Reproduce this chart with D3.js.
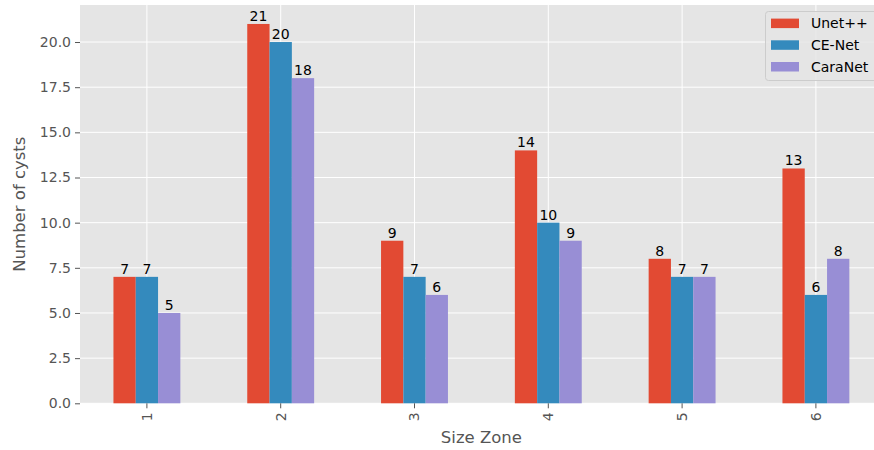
<!DOCTYPE html>
<html><head><meta charset="utf-8">
<script src="https://cdn.jsdelivr.net/npm/d3@7"></script>
<style>body{margin:0;background:#fff}svg{display:block}text{font-family:"DejaVu Sans",sans-serif}</style>
</head><body>
<script>
const categories = ["1","2","3","4","5","6"];
const seriesNames = ["Unet++","CE-Net","CaraNet"];
const unetpp = [7,21,9,14,8,13];
const cenet = [7,20,7,10,7,6];
const caranet = [5,18,6,9,7,8];
const yTicks = [0,2.5,5,7.5,10,12.5,15,17.5,20];
const colors = ["#E24A33","#348ABD","#988ED5"];
const series = [unetpp, cenet, caranet];

const W = 874, H = 450;
const mLeft = 80, mTop = 5, mBottom = 403.3;
const step = 133.8;
const mRight = mLeft + step * categories.length;
const fs = 14;

const svg = d3.select("body").append("svg").attr("width", W).attr("height", H);

const x = d3.scaleBand().domain(categories).range([mLeft, mRight]).paddingInner(0.5).paddingOuter(0.25);
const xs = d3.scaleBand().domain(seriesNames).range([0, x.bandwidth()]);
const y = d3.scaleLinear().domain([0, 22.05]).range([mBottom, mTop]);

svg.append("rect").attr("x", mLeft).attr("y", mTop).attr("width", mRight - mLeft).attr("height", mBottom - mTop).attr("fill", "#E5E5E5");

// grid
svg.append("g").selectAll("line").data(yTicks).join("line")
  .attr("x1", mLeft).attr("x2", mRight).attr("y1", d => y(d)).attr("y2", d => y(d))
  .attr("stroke", "#fff").attr("stroke-width", 1);
svg.append("g").selectAll("line").data(categories).join("line")
  .attr("x1", d => x(d) + x.bandwidth()/2).attr("x2", d => x(d) + x.bandwidth()/2)
  .attr("y1", mTop).attr("y2", mBottom).attr("stroke", "#fff").attr("stroke-width", 1);

// bars
series.forEach((vals, si) => {
  const g = svg.append("g");
  g.selectAll("rect").data(vals).join("rect")
    .attr("x", (d, i) => x(categories[i]) + xs(seriesNames[si]))
    .attr("width", xs.bandwidth())
    .attr("y", d => y(d)).attr("height", d => y(0) - y(d))
    .attr("fill", colors[si]);
  g.selectAll("text").data(vals).join("text")
    .attr("x", (d, i) => x(categories[i]) + xs(seriesNames[si]) + xs.bandwidth()/2)
    .attr("y", d => y(d) - 3)
    .attr("text-anchor", "middle").attr("font-size", fs).attr("fill", "#000")
    .text(d => d);
});

// y axis
const yAxis = d3.axisLeft(y).tickValues(yTicks).tickFormat(d3.format(".1f")).tickSize(5).tickPadding(4);
const ya = svg.append("g").attr("transform", `translate(${mLeft},0)`).call(yAxis);
ya.select(".domain").remove();
ya.selectAll("line").attr("stroke", "#555");
ya.selectAll("text").attr("fill", "#555").attr("font-size", fs).attr("font-family", "DejaVu Sans");

// x axis
const xAxis = d3.axisBottom(x).tickSize(5).tickPadding(4);
const xa = svg.append("g").attr("transform", `translate(0,${mBottom})`).call(xAxis);
xa.select(".domain").remove();
xa.selectAll("line").attr("stroke", "#555");
xa.selectAll("text").attr("fill", "#555").attr("font-size", fs).attr("font-family", "DejaVu Sans")
  .attr("transform", "rotate(-90)").attr("text-anchor", "end").attr("dy", "0.35em")
  .attr("x", -9).attr("y", 0);

// axis labels
svg.append("text").attr("x", (mLeft + mRight)/2).attr("y", 443).attr("text-anchor", "middle")
  .attr("font-size", 16.5).attr("fill", "#555").text("Size Zone");
svg.append("text").attr("transform", `translate(25,${(mTop+mBottom)/2}) rotate(-90)`).attr("text-anchor", "middle")
  .attr("font-size", 16.5).attr("fill", "#555").text("Number of cysts");

// legend
const lg = svg.append("g");
lg.append("rect").attr("x", 765.5).attr("y", 11.5).attr("width", 130).attr("height", 69).attr("rx", 3)
  .attr("fill", "#E5E5E5").attr("fill-opacity", 0.8).attr("stroke", "#cccccc").attr("stroke-width", 1);
seriesNames.forEach((n, i) => {
  const cy = 23.3 + i * 21.7;
  lg.append("rect").attr("x", 771).attr("y", cy - 4.7).attr("width", 28).attr("height", 9.5).attr("fill", colors[i]);
  lg.append("text").attr("x", 811).attr("y", cy).attr("dy", "0.35em").attr("font-size", fs).attr("fill", "#000").text(n);
});
</script>
</body></html>
